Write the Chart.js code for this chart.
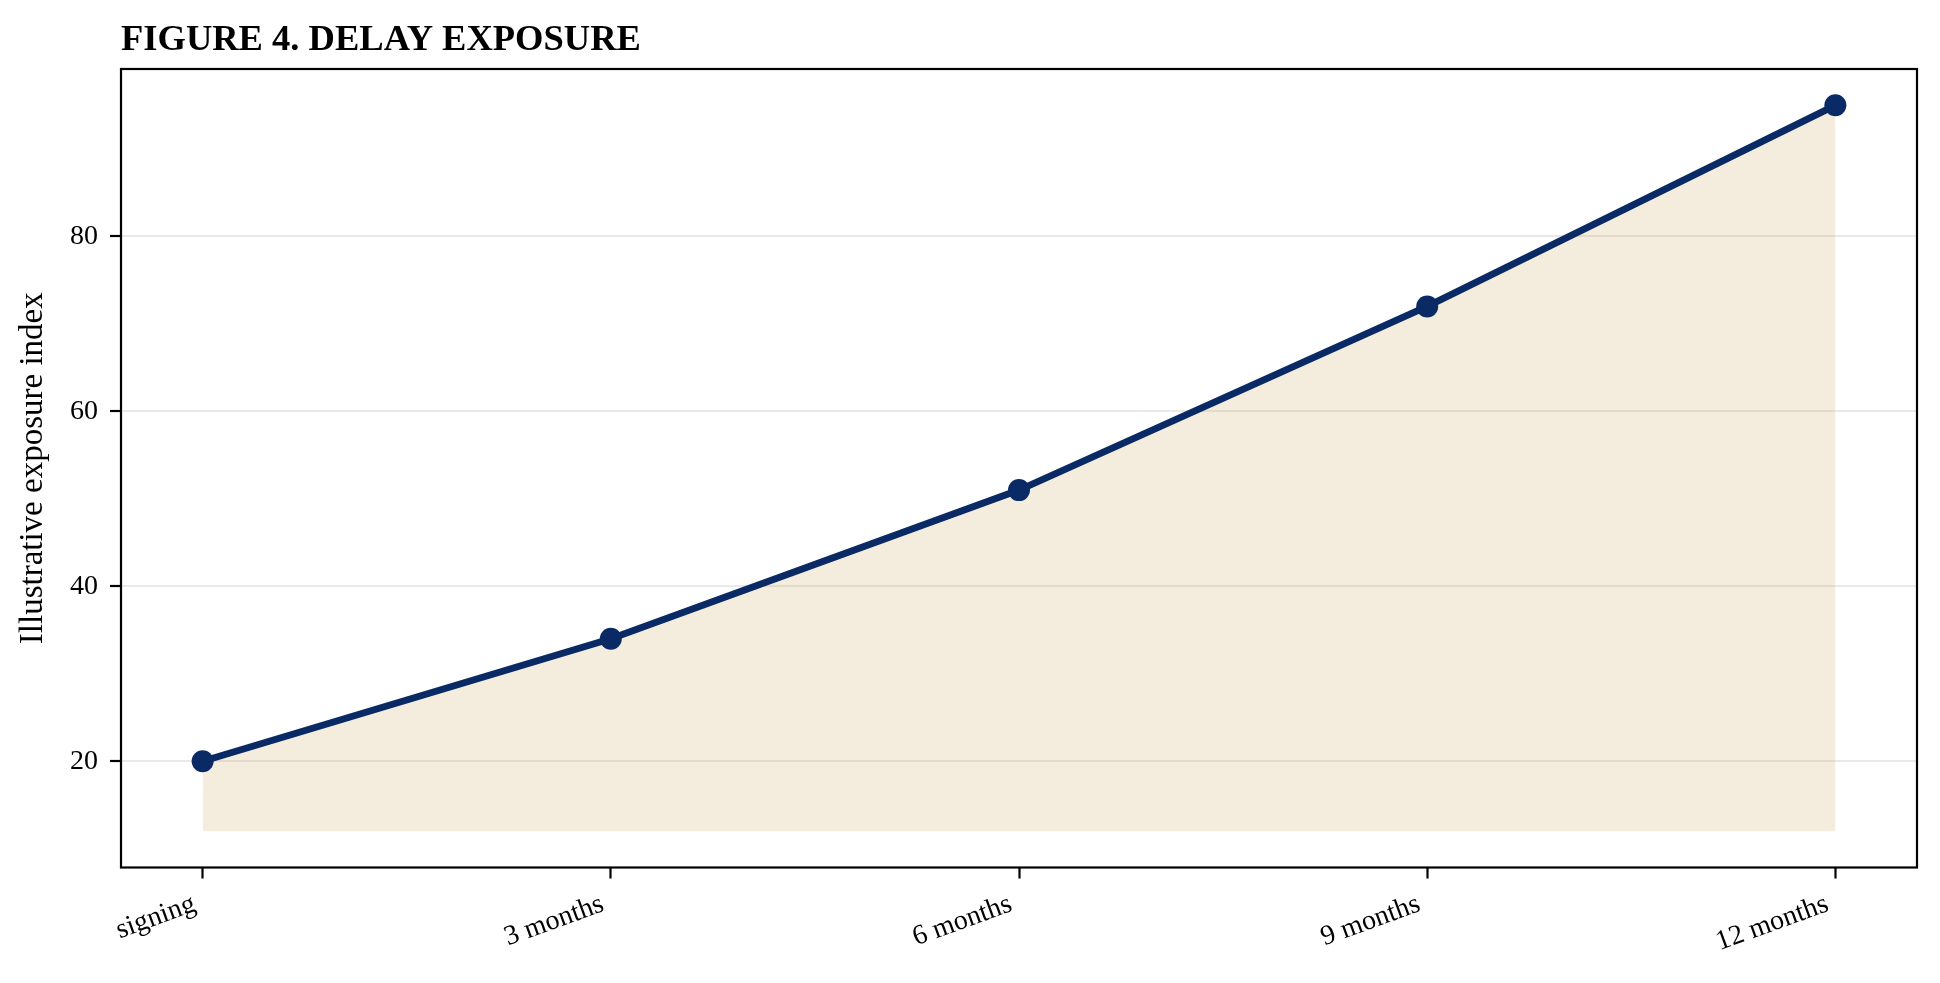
<!DOCTYPE html>
<html>
<head>
<meta charset="utf-8">
<script src="https://cdn.jsdelivr.net/npm/chart.js@4.4.1/dist/chart.umd.min.js"></script>
<style>
    html, body { margin: 0; padding: 0; background: #ffffff; }
    #wrap { width: 1940px; height: 983px; position: relative; }
</style>
</head>
<body>
<div id="wrap"><canvas id="exposureChart" width="1940" height="983"></canvas></div>
<script>
const categories = ['signing', '3 months', '6 months', '9 months', '12 months'];
const exposureValues = [20, 34, 51, 72, 95];
const fillFloor = 12;
const yTicks = [20, 40, 60, 80];

const serif = '"Liberation Serif", "Times New Roman", serif';

// title and the box round the plot, drawn by hand like the matplotlib frame
const framePlugin = {
    id: 'frame',
    afterDraw(chart) {
        const ctx = chart.ctx;
        const area = chart.chartArea;
        ctx.save();
        ctx.strokeStyle = '#000000';
        ctx.lineWidth = 2.2;
        ctx.strokeRect(area.left, area.top, area.right - area.left, area.bottom - area.top);
        ctx.fillStyle = '#000000';
        ctx.font = 'bold 36.5px ' + serif;
        ctx.textAlign = 'left';
        ctx.textBaseline = 'alphabetic';
        ctx.fillText('FIGURE 4. DELAY EXPOSURE', area.left, 50);
        ctx.restore();
    }
};

const points = exposureValues.map((v, i) => ({ x: i, y: v }));

new Chart(document.getElementById('exposureChart').getContext('2d'), {
    type: 'line',
    data: {
        datasets: [{
            data: points,
            borderColor: '#0a2a66',
            borderWidth: 7,
            pointRadius: 11,
            pointHoverRadius: 11,
            pointBackgroundColor: '#0a2a66',
            pointBorderWidth: 0,
            tension: 0,
            fill: { value: fillFloor },
            backgroundColor: 'rgba(201, 164, 92, 0.2)'
        }]
    },
    options: {
        responsive: false,
        animation: false,
        layout: { padding: { top: 69, right: 23, bottom: 0, left: 0 } },
        plugins: {
            legend: { display: false },
            tooltip: { enabled: false }
        },
        scales: {
            x: {
                type: 'linear',
                min: -0.2,
                max: 4.2,
                afterBuildTicks(scale) {
                    scale.ticks = categories.map((c, i) => ({ value: i }));
                },
                afterFit(scale) {
                    scale.height = 115.5;
                },
                border: { display: false },
                grid: {
                    drawOnChartArea: false,
                    tickColor: '#000000',
                    tickLength: 11,
                    tickWidth: 2.2
                },
                ticks: {
                    color: '#000000',
                    font: { family: serif, size: 28 },
                    maxRotation: 20,
                    minRotation: 20,
                    padding: 9,
                    labelOffset: -8,
                    callback: (v) => categories[v]
                }
            },
            y: {
                min: 7.85,
                max: 99.15,
                afterBuildTicks(scale) {
                    scale.ticks = yTicks.map(v => ({ value: v }));
                },
                afterFit(scale) {
                    scale.width = 121;
                },
                border: { display: false },
                grid: {
                    color: '#e9e9e9',
                    lineWidth: 2,
                    tickColor: '#000000',
                    tickLength: 11,
                    tickWidth: 2.2
                },
                ticks: {
                    color: '#000000',
                    font: { family: serif, size: 28 },
                    padding: 12
                },
                title: {
                    display: true,
                    text: 'Illustrative exposure index',
                    color: '#000000',
                    font: { family: serif, size: 33 },
                    padding: { top: 14, bottom: 0 }
                }
            }
        }
    },
    plugins: [framePlugin]
});
</script>
</body>
</html>
